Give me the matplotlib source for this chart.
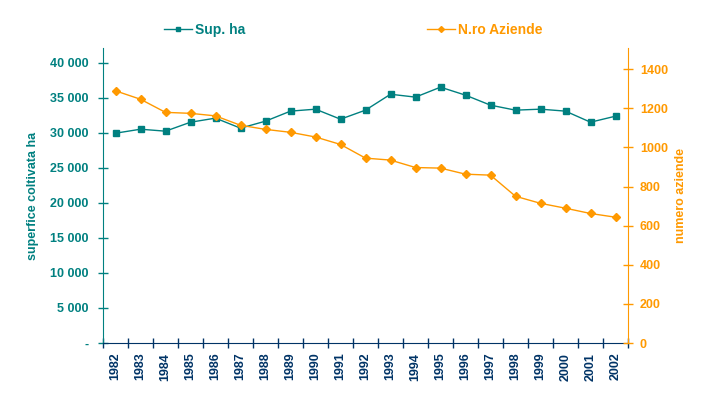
import matplotlib
matplotlib.use('Agg')
import matplotlib.pyplot as plt
from matplotlib.ticker import FuncFormatter, FixedLocator
import numpy as np

plt.rcParams['font.family'] = ['Liberation Sans', 'DejaVu Sans']

years = ['1982', '1983', '1984', '1985', '1986', '1987', '1988', '1989', '1990', '1991', '1992',
         '1993', '1994', '1995', '1996', '1997', '1998', '1999', '2000', '2001', '2002']
sup_ha = [29940, 30510, 30230, 31510, 32090, 30660, 31660, 33090, 33370, 31940, 33230,
          35500, 35090, 36510, 35370, 33940, 33230, 33370, 33090, 31510, 32370]
n_aziende = [1289, 1246, 1179, 1174, 1161, 1113, 1092, 1077, 1053, 1015, 945,
             935, 897, 894, 863, 858, 750, 714, 689, 662, 643]

TEAL = '#008080'
ORANGE = '#FF9900'
NAVY = '#003366'


def fmt_left(v, pos):
    if v == 0:
        return '-'
    return f'{int(v):,}'.replace(',', ' ')


fig = plt.figure(figsize=(7.15, 3.98), dpi=100)
ax = fig.add_axes([103 / 715, 1 - 343 / 398, 525 / 715, 295 / 398])
ax2 = ax.twinx()

x = np.arange(len(years))
l1, = ax.plot(x, sup_ha, color=TEAL, lw=1.0, marker='s', markersize=5,
              label='Sup. ha', zorder=3)
l2, = ax2.plot(x, n_aziende, color=ORANGE, lw=1.0, marker='D', markersize=4.3,
               label='N.ro Aziende', zorder=3)

ax.set_xlim(-0.5, len(years) - 0.5)
ax.set_ylim(0, 42100)
ax2.set_ylim(0, 1508)

ax.set_yticks(np.arange(0, 40001, 5000))
ax.yaxis.set_major_formatter(FuncFormatter(fmt_left))
ax2.set_yticks(np.arange(0, 1401, 200))

ax.xaxis.set_major_locator(FixedLocator(x))
ax.set_xticklabels(years, rotation=90, color=NAVY, fontsize=9, fontweight='bold')
ax.xaxis.set_minor_locator(FixedLocator(np.arange(-0.5, len(years), 1)))
ax.tick_params(axis='x', which='major', length=0, pad=7)
ax.tick_params(axis='x', which='minor', length=7, direction='inout', color=NAVY, width=1)

ax.tick_params(axis='y', length=7, direction='inout', color=TEAL, width=1,
               labelcolor=TEAL, labelsize=9, pad=7)
ax2.tick_params(axis='y', length=7, direction='inout', color=ORANGE, width=1,
                labelcolor=ORANGE, labelsize=9, pad=5)
for lab in ax.get_yticklabels() + ax2.get_yticklabels():
    lab.set_fontweight('bold')

for a in (ax, ax2):
    a.spines['top'].set_visible(False)
ax.spines['right'].set_visible(False)
ax2.spines['left'].set_visible(False)
ax2.spines['bottom'].set_visible(False)
ax.spines['left'].set_color(TEAL)
ax.spines['bottom'].set_color(NAVY)
ax2.spines['right'].set_color(ORANGE)

ax.set_ylabel('superfice coltivata ha', color=TEAL, fontsize=9, fontweight='bold')
ax.yaxis.set_label_coords(-0.122, 0.5)
ax2.set_ylabel('numero aziende', color=ORANGE, fontsize=9, fontweight='bold')
ax2.yaxis.set_label_coords(1.09, 0.5)

for handle, xpos in ((l1, 164), (l2, 427)):
    fig.legend(handles=[handle], loc='center left', bbox_to_anchor=(xpos / 715, 1 - 30 / 398),
               frameon=False, borderaxespad=0, borderpad=0, handletextpad=0.25,
               handlelength=2.0, markerscale=0.7, labelcolor='linecolor',
               prop={'family': ['Liberation Sans Narrow', 'Liberation Sans'],
                     'weight': 'bold', 'size': 10})

fig.savefig('out.png', dpi=100)
